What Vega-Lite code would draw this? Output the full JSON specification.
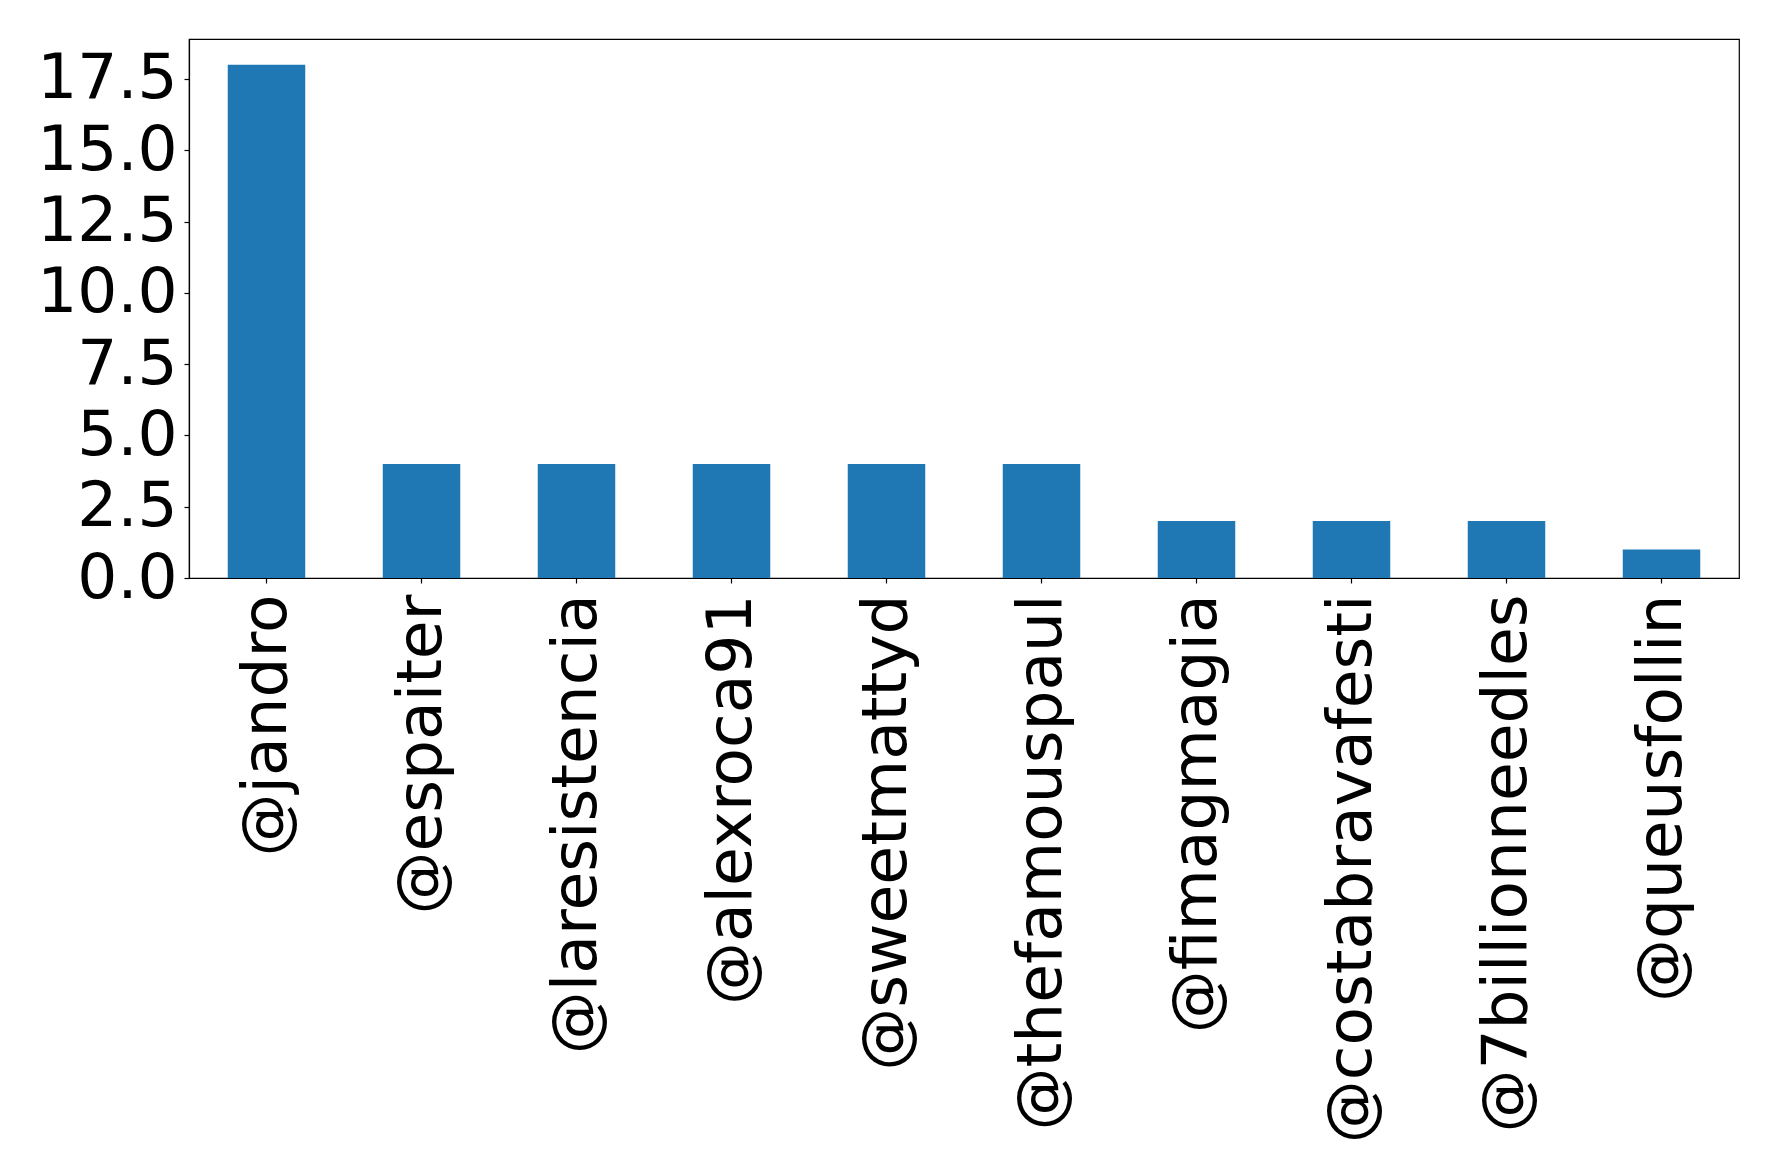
{
  "$schema": "https://vega.github.io/schema/vega-lite/v6.json",
  "width": 1550,
  "height": 539,
  "autosize": {"type": "none"},
  "padding": {"left": 189, "top": 39, "right": 39, "bottom": 594},
  "background": "white",
  "config": {
    "view": {"stroke": "black", "strokeWidth": 1.2},
    "axis": {
      "labelFont": "DejaVu Sans",
      "labelFontSize": 63,
      "labelColor": "black",
      "labelLimit": 0,
      "tickColor": "black",
      "tickSize": 5,
      "tickWidth": 1.2,
      "domainColor": "black",
      "domainWidth": 1.2,
      "grid": false,
      "title": null
    }
  },
  "data": {
    "values": [
      {"user": "@jandro", "count": 18},
      {"user": "@espaiter", "count": 4},
      {"user": "@laresistencia", "count": 4},
      {"user": "@alexroca91", "count": 4},
      {"user": "@sweetmattyd", "count": 4},
      {"user": "@thefamouspaul", "count": 4},
      {"user": "@fimagmagia", "count": 2},
      {"user": "@costabravafesti", "count": 2},
      {"user": "@7billionneedles", "count": 2},
      {"user": "@queusfollin", "count": 1}
    ]
  },
  "mark": {"type": "bar", "color": "#1f77b4"},
  "encoding": {
    "x": {
      "field": "user",
      "type": "nominal",
      "sort": null,
      "scale": {"paddingInner": 0.5, "paddingOuter": 0.25},
      "axis": {"labelAngle": -90, "labelPadding": 11, "labelAlign": "right", "labelBaseline": "middle"}
    },
    "y": {
      "field": "count",
      "type": "quantitative",
      "scale": {"domain": [0, 18.9], "nice": false, "zero": true},
      "axis": {"values": [0, 2.5, 5, 7.5, 10, 12.5, 15, 17.5], "format": ".1f", "labelPadding": 7}
    }
  }
}
